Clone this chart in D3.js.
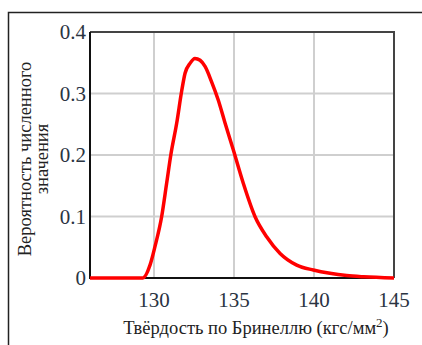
<!DOCTYPE html>
<html>
<head>
<meta charset="utf-8">
<script src="https://cdn.jsdelivr.net/npm/d3@7"></script>
<style>
  html, body { margin:0; padding:0; background:#fff; }
  svg { display:block; }
  text { font-family: "Liberation Serif", "DejaVu Serif", serif; }
</style>
</head>
<body>
<svg id="chart" width="422" height="345"></svg>
<script>
// твёрдость (HB) и вероятность
const hardness=[126, 129.3, 129.75, 130.06, 130.48, 130.79, 131.05, 131.42, 131.73, 131.94, 132.25, 132.56,
    132.88, 133.19, 133.6, 134.02, 134.44, 134.96, 135.58, 136.31, 137.04, 137.88, 138.92, 139.96,
    141, 142.04, 143.1, 145];
const probability=[0, 0, 0.021, 0.051, 0.1, 0.154, 0.2, 0.252, 0.304, 0.333, 0.349, 0.357,
    0.354, 0.344, 0.319, 0.289, 0.252, 0.208, 0.154, 0.1, 0.067, 0.04, 0.021, 0.013,
    0.0076, 0.004, 0.002, 0];
const xTicks=[130, 135, 140, 145];
const yTicks=[0, 0.1, 0.2, 0.3, 0.4];
const yTickLabels=["0", "0.1", "0.2", "0.3", "0.4"];
const yTitle=["Вероятность численного", "значения"];

const svg=d3.select("#chart");
const padL=90, padR=394, padT=32, padB=278;

const x=d3.scaleLinear().domain([126, 145]).range([padL, padR]);
const y=d3.scaleLinear().domain([0, 0.4]).range([padB, padT]);

// внешняя рамка
svg.append("rect")
    .attr("x", 8.5).attr("y", 12.5)
    .attr("width", 420).attr("height", 340)
    .attr("fill", "none").attr("stroke", "#222").attr("stroke-width", 1.5);

// сетка
const grid=svg.append("g").attr("stroke", "#cfcfcf").attr("stroke-width", 2);
xTicks.filter(d => d < 145).forEach(d => {
    grid.append("line").attr("x1", x(d)).attr("x2", x(d)).attr("y1", padT).attr("y2", padB);
});
yTicks.filter(d => d > 0).forEach(d => {
    grid.append("line").attr("x1", padL).attr("x2", padR).attr("y1", y(d)).attr("y2", y(d));
});

// рамка области графика
svg.append("path")
    .attr("d", `M${padL},${padT}H${padR}V${padB}`)
    .attr("fill", "none").attr("stroke", "#444").attr("stroke-width", 2);

svg.append("path")
    .attr("d", `M${padL},${padT}V${padB}H${padR}`)
    .attr("fill", "none").attr("stroke", "#111").attr("stroke-width", 2);

const line=d3.line()
    .x((d, i) => x(hardness[i])).y(d => y(d))
    .curve(d3.curveMonotoneX);
svg.append("path")
    .datum(probability)
    .attr("d", line)
    .attr("fill", "none").attr("stroke", "#ff0000").attr("stroke-width", 3.5)
    .attr("stroke-linejoin", "round");

// подписи делений
yTicks.forEach((d, i) => {
    svg.append("text")
        .attr("x", padL - 4).attr("y", y(d) + 7)
        .attr("text-anchor", "end")
        .attr("font-size", 21)
        .attr("fill", "#2a3442")
        .text(yTickLabels[i]);
});
xTicks.forEach(d => {
    svg.append("text")
        .attr("x", x(d)).attr("y", padB + 29)
        .attr("text-anchor", "middle")
        .attr("font-size", 21)
        .attr("fill", "#2a3442")
        .text(d);
});

// подписи осей
const xTitle=svg.append("text")
    .attr("x", 256).attr("y", 334)
    .attr("text-anchor", "middle")
    .attr("font-size", 18.5)
    .attr("fill", "#222");
xTitle.append("tspan").text("Твёрдость по Бринеллю (кгс/мм");
xTitle.append("tspan").attr("dy", -7).attr("font-size", 13).text("2");
xTitle.append("tspan").attr("dy", 7).text(")");

yTitle.forEach((t, i) => {
    svg.append("text")
        .attr("transform", `translate(${31 + i * 17},159) rotate(-90)`)
        .attr("text-anchor", "middle")
        .attr("font-size", 18.5)
        .attr("fill", "#222")
        .text(t);
});
</script>
</body>
</html>
